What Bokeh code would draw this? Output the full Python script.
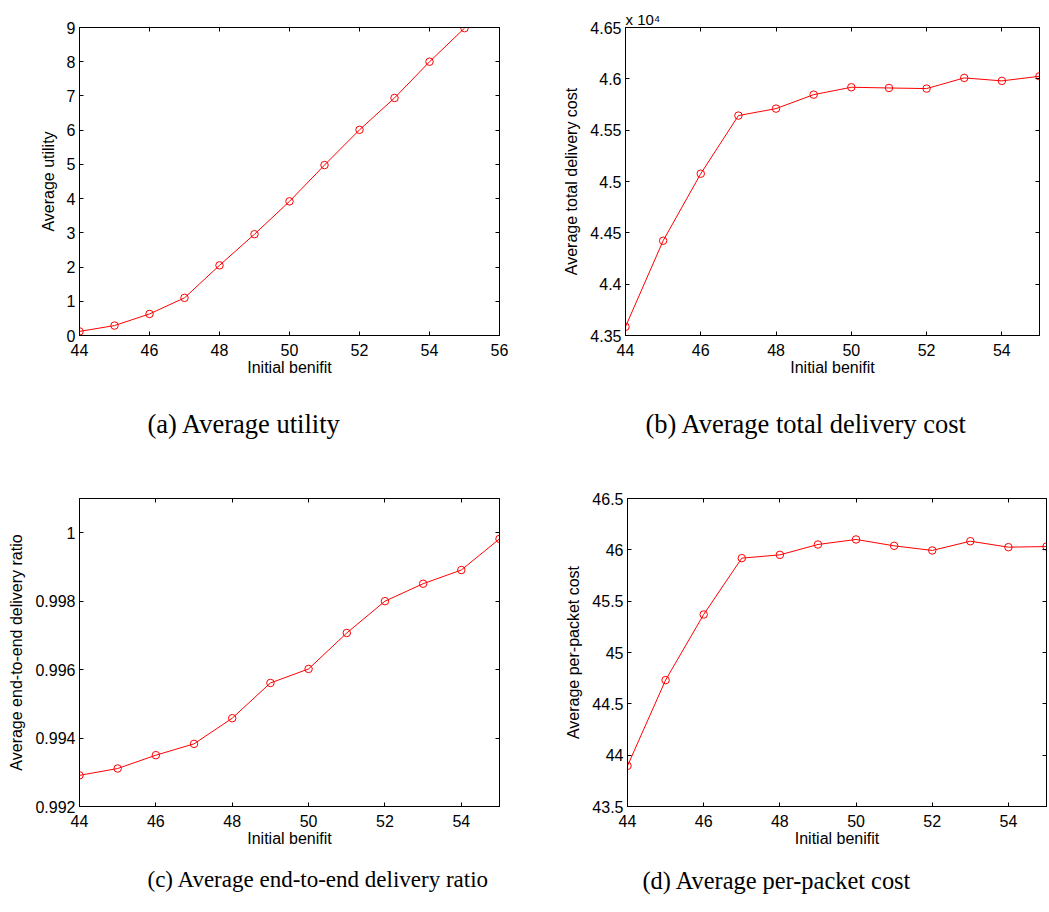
from bokeh.plotting import figure
from bokeh.layouts import column, row
from bokeh.models import Range1d, FixedTicker, LinearAxis, Title
from bokeh.embed import file_html
from bokeh.resources import INLINE

# ---------------- data ----------------
initial_benefit = [44, 45, 46, 47, 48, 49, 50, 51, 52, 53, 54, 55]
avg_utility = [0.12, 0.29, 0.63, 1.10, 2.05, 2.96, 3.92, 4.98, 6.01, 6.94, 8.00, 8.98]
avg_total_cost = [43585, 44423, 45076, 45642, 45710, 45846, 45918, 45911, 45905, 46009, 45980, 46025]
avg_delivery_ratio = [0.99291, 0.99311, 0.99350, 0.99383, 0.99458, 0.99561, 0.99602,
                      0.99707, 0.99800, 0.99851, 0.99891, 0.99982]
avg_packet_cost = [43.896, 44.731, 45.370, 45.919, 45.951, 46.052, 46.101, 46.039,
                   45.994, 46.084, 46.026, 46.032]

# ticks and tick labels
xticks_a = [44, 46, 48, 50, 52, 54, 56]
xlabels_a = ["44", "46", "48", "50", "52", "54", "56"]
xticks_bcd = [44, 46, 48, 50, 52, 54]
xlabels_bcd = ["44", "46", "48", "50", "52", "54"]
yticks_a = [0, 1, 2, 3, 4, 5, 6, 7, 8, 9]
ylabels_a = ["0", "1", "2", "3", "4", "5", "6", "7", "8", "9"]
yticks_b = [43500, 44000, 44500, 45000, 45500, 46000, 46500]
ylabels_b = ["4.35", "4.4", "4.45", "4.5", "4.55", "4.6", "4.65"]
yticks_c = [0.992, 0.994, 0.996, 0.998, 1.0]
ylabels_c = ["0.992", "0.994", "0.996", "0.998", "1"]
yticks_d = [43.5, 44.0, 44.5, 45.0, 45.5, 46.0, 46.5]
ylabels_d = ["43.5", "44", "44.5", "45", "45.5", "46", "46.5"]

x_label = "Initial benifit"
captions = ["(a) Average utility", "(b) Average total delivery cost",
            "(c) Average end-to-end delivery ratio", "(d) Average per-packet cost"]
exponent_label = "x 10\u2074"

SANS = "Liberation Sans"
SERIF = "Liberation Serif"
FS = "16px"


def style_axis(ax, ticks, labels, show_labels=True):
    ax.ticker = FixedTicker(ticks=ticks)
    ax.major_tick_in = 4
    ax.major_tick_out = 0
    ax.minor_tick_line_color = None
    ax.axis_line_color = "black"
    ax.major_tick_line_color = "black"
    if show_labels:
        ax.major_label_overrides = dict(zip(ticks, labels))
        ax.major_label_text_font = SANS
        ax.major_label_text_font_size = FS
        ax.major_label_text_color = "black"
        ax.axis_label_text_font = SANS
        ax.axis_label_text_font_size = FS
        ax.axis_label_text_font_style = "normal"
        ax.axis_label_text_color = "black"
    else:
        ax.major_label_text_font_size = "0px"
        ax.major_label_text_color = None
        ax.major_label_standoff = 0


def panel(width, height, bl, br, bt, bb, xr, yr, xt, xl, yt, yl, ylabel,
          ys, caption, cap_offset, cap_standoff, cap_size):
    p = figure(width=width, height=height, x_range=Range1d(*xr), y_range=Range1d(*yr),
               output_backend="svg", toolbar_location=None,
               min_border_left=bl, min_border_right=br,
               min_border_top=bt, min_border_bottom=bb)
    p.grid.visible = False
    p.outline_line_color = "black"
    p.outline_line_width = 1
    p.background_fill_color = "white"
    p.border_fill_color = "white"

    style_axis(p.xaxis[0], xt, xl)
    p.xaxis[0].axis_label = x_label
    p.xaxis[0].major_label_standoff = 8
    p.xaxis[0].axis_label_standoff = 0
    style_axis(p.yaxis[0], yt, yl)
    p.yaxis[0].axis_label = ylabel
    p.yaxis[0].major_label_standoff = 4
    p.yaxis[0].axis_label_standoff = 7

    top = LinearAxis()
    style_axis(top, xt, xl, show_labels=False)
    p.add_layout(top, "above")
    right = LinearAxis()
    style_axis(right, yt, yl, show_labels=False)
    p.add_layout(right, "right")

    p.line(initial_benefit, ys, line_color="#ff0000", line_width=1)
    p.scatter(initial_benefit, ys, marker="circle", size=7.5, fill_color=None,
              line_color="#ff0000", line_width=1)

    p.add_layout(Title(text=caption, align="left", offset=cap_offset,
                       standoff=cap_standoff, text_font=SERIF, text_font_size=cap_size,
                       text_font_style="normal", text_color="black"), "below")
    return p


# row 1: frame 27..335
pa = panel(560, 470, 79, 61, 27, 135, (44, 56), (0, 9), xticks_a, xlabels_a,
           yticks_a, ylabels_a, "Average utility", avg_utility, captions[0], 68, 56, "26.5px")
pb = panel(488, 470, 60, 9, 27, 135, (44, 55), (43500, 46500), xticks_bcd, xlabels_bcd,
           yticks_b, ylabels_b, "Average total delivery cost", avg_total_cost,
           captions[1], 20, 56, "26.5px")
pb.title.text = exponent_label
pb.title.align = "left"
pb.title.offset = 0
pb.title.standoff = 0
pb.title.text_font = SANS
pb.title.text_font_size = "15px"
pb.title.text_font_style = "normal"
pb.title.text_color = "black"

# row 2: frame 498..806
pc = panel(560, 440, 79, 61, 28, 104, (44, 55), (0.992, 1.001), xticks_bcd, xlabels_bcd,
           yticks_c, ylabels_c, "Average end-to-end delivery ratio", avg_delivery_ratio,
           captions[2], 68, 30, "23px")
pd_ = panel(488, 440, 67, 2, 28, 104, (44, 55), (43.5, 46.5), xticks_bcd, xlabels_bcd,
            yticks_d, ylabels_d, "Average per-packet cost", avg_packet_cost,
            captions[3], 15, 30, "24.4px")

layout = column(row(pa, pb), row(pc, pd_))
open("out.html", "w").write(file_html(layout, INLINE))
